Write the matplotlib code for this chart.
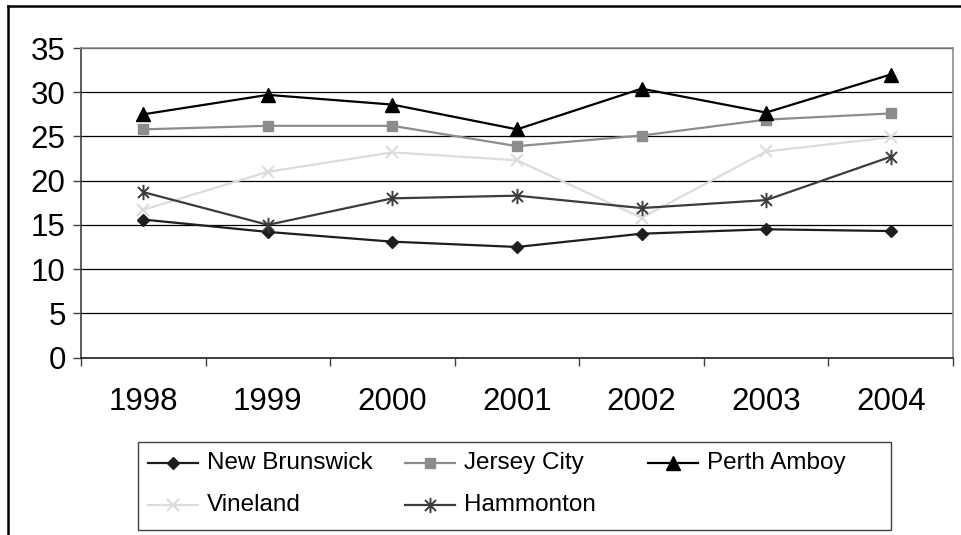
import matplotlib
matplotlib.use("Agg")
import matplotlib.pyplot as plt
from matplotlib.lines import Line2D
from matplotlib.patches import Rectangle
from matplotlib.path import Path

plt.rcParams['font.family'] = ['Liberation Sans', 'DejaVu Sans']

years = ["1998", "1999", "2000", "2001", "2002", "2003", "2004"]
new_brunswick = [15.6, 14.2, 13.1, 12.5, 14.0, 14.5, 14.3]
jersey_city = [25.8, 26.2, 26.2, 23.9, 25.1, 26.9, 27.6]
perth_amboy = [27.5, 29.7, 28.6, 25.8, 30.4, 27.7, 32.0]
vineland = [16.7, 21.0, 23.2, 22.3, 15.8, 23.3, 24.9]
hammonton = [18.7, 15.0, 18.0, 18.3, 16.9, 17.8, 22.7]

yticks = [0, 5, 10, 15, 20, 25, 30, 35]

asterisk = Path([(0, -1), (0, 1), (-0.72, -0.72), (0.72, 0.72), (-0.72, 0.72), (0.72, -0.72)],
                [Path.MOVETO, Path.LINETO, Path.MOVETO, Path.LINETO, Path.MOVETO, Path.LINETO])

series = [
    ("New Brunswick", new_brunswick, dict(color="#1e1e1e", marker="D", ms=6.5, mfc="#1e1e1e", mec="#1e1e1e", mew=1)),
    ("Jersey City", jersey_city, dict(color="#8c8c8c", marker="s", ms=7.5, mfc="#8c8c8c", mec="#8c8c8c", mew=1)),
    ("Perth Amboy", perth_amboy, dict(color="#000000", marker="^", ms=9.5, mfc="#000000", mec="#000000", mew=1)),
    ("Vineland", vineland, dict(color="#dcdcdc", marker="x", ms=9, mfc="none", mec="#dcdcdc", mew=1.5)),
    ("Hammonton", hammonton, dict(color="#3c3c3c", marker=asterisk, ms=11, mfc="none", mec="#3c3c3c", mew=1.4)),
]

W, H = 961, 535
fig = plt.figure(figsize=(W / 100, H / 100), dpi=100)

def fx(px):
    return px / W

def fy(py):
    return 1 - py / H

left, right, top, bottom = 81, 953, 48, 357.5
ax = fig.add_axes([fx(left), fy(bottom), fx(right) - fx(left), fy(top) - fy(bottom)])

x = list(range(len(years)))
for name, vals, st in series:
    ax.plot(x, vals, lw=1.6, label=name, zorder=3, **st)

ax.set_xlim(-0.5, len(years) - 0.5)
ax.set_ylim(0, 35)
ax.set_yticks(yticks)
ax.set_yticklabels([str(v) for v in yticks])
ax.set_xticks(x)
ax.set_xticklabels(years)
ax.set_xticks([i - 0.5 for i in range(len(years) + 1)], minor=True)
ax.tick_params(axis='x', which='major', length=0, pad=21, labelsize=22.5)
ax.tick_params(axis='x', which='minor', length=6, width=1, color="#404040", direction='out')
ax.tick_params(axis='y', which='major', length=6, width=1, color="#404040", pad=5, labelsize=22.5)
ax.grid(axis='y', color="#000000", lw=0.9, zorder=0)
ax.set_axisbelow(True)

ax.spines['left'].set_color("#404040")
ax.spines['bottom'].set_color("#202020")
ax.spines['top'].set_color("#8c8c8c")
ax.spines['right'].set_color("#8c8c8c")
for s in ax.spines.values():
    s.set_linewidth(1.2)

# outer chart border (left and top visible)
fig.add_artist(Line2D([fx(8), fx(8)], [fy(6), fy(H + 5)], color="black", lw=1.8, transform=fig.transFigure))
fig.add_artist(Line2D([fx(8), fx(W + 5)], [fy(6), fy(6)], color="black", lw=1.8, transform=fig.transFigure))

# legend box
fig.add_artist(Rectangle((fx(138), fy(530)), fx(891) - fx(138), fy(442) - fy(530),
                         fill=False, edgecolor="#404040", lw=1.0, transform=fig.transFigure))

col_x = [148, 405, 648]
row_y = [463, 505]
order = [(0, 0), (1, 0), (2, 0), (0, 1), (1, 1)]
for (name, vals, st), (c, r) in zip(series, order):
    x0 = col_x[c]
    x1 = x0 + 50
    yy = fy(row_y[r])
    fig.add_artist(Line2D([fx(x0), fx((x0 + x1) / 2), fx(x1)], [yy, yy, yy], lw=1.6, markevery=[1],
                          transform=fig.transFigure, **st))
    fig.text(fx(x1 + 9), yy, name, fontsize=17.5, va='center', ha='left')

fig.savefig("out.png", dpi=100)
